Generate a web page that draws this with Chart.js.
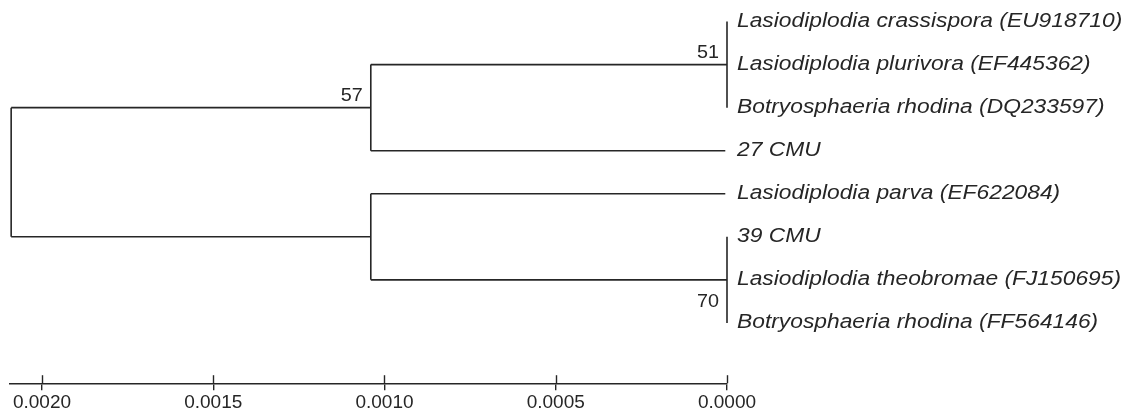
<!DOCTYPE html>
<html>
<head>
<meta charset="utf-8">
<title>Phylogenetic tree</title>
<script src="https://cdn.jsdelivr.net/npm/chart.js@4.4.1/dist/chart.umd.min.js"></script>
<style>
  body { margin: 0; background: #fff; }
  #wrap { width: 1132px; height: 416px; }
</style>
</head>
<body>
<div id="wrap"><canvas id="chart"></canvas></div>
<script>
// taxa, top to bottom
const leaves = [
    'Lasiodiplodia crassispora (EU918710)',
    'Lasiodiplodia plurivora (EF445362)',
    'Botryosphaeria rhodina (DQ233597)',
    '27 CMU',
    'Lasiodiplodia parva (EF622084)',
    '39 CMU',
    'Lasiodiplodia theobromae (FJ150695)',
    'Botryosphaeria rhodina (FF564146)'
];
const leafParent = ['n51', 'n51', 'n51', 'n57', 'nLow', 'n70', 'n70', 'n70'];
const leafDist = [0, 0, 0, 0.000005, 0.000005, 0, 0, 0];

// internal nodes, distance measured back from the tips
const nodeIds = ['root', 'n57', 'nLow', 'n51', 'n70'];
const nodeParent = [null, 'root', 'root', 'n57', 'nLow'];
const nodeDist = [0.00209, 0.00104, 0.00104, 0, 0];
const bootstrap = [null, 57, null, 51, 70];

// scale bar
const scaleTicks = [0.0020, 0.0015, 0.0010, 0.0005, 0.0000];

const INK = '#262626';
const FONT = '"Liberation Sans", Arial, sans-serif';

// y of each node = middle of its children
function distOf(id) { return nodeDist[nodeIds.indexOf(id)]; }
function childYs(id) {
    const ys = [];
    leafParent.forEach((p, i) => { if (p === id) ys.push(i); });
    nodeParent.forEach((p, i) => { if (p === id) ys.push(nodeY(nodeIds[i])); });
    return ys;
}
function nodeY(id) {
    const ys = childYs(id);
    return (Math.min(...ys) + Math.max(...ys)) / 2;
}

// build the branch segments
const segments = [];
leaves.forEach((name, i) => {
    const px = distOf(leafParent[i]);
    if (px !== leafDist[i]) segments.push([{ x: px, y: i }, { x: leafDist[i], y: i }]);
});
nodeIds.forEach((id, i) => {
    const y = nodeY(id);
    if (nodeParent[i]) segments.push([{ x: distOf(nodeParent[i]), y: y }, { x: nodeDist[i], y: y }]);
    const ys = childYs(id);
    segments.push([{ x: nodeDist[i], y: Math.min(...ys) }, { x: nodeDist[i], y: Math.max(...ys) }]);
});

const datasets = segments.map(seg => ({
    data: seg,
    showLine: true,
    borderColor: INK,
    borderWidth: 1.6,
    pointRadius: 0,
    clip: false
}));

// labels on the tips, bootstrap values and the upper half of the scale ticks
const treeText = {
    id: 'treeText',
    afterDatasetsDraw(chart) {
        const ctx = chart.ctx;
        const xs = chart.scales.x, ys = chart.scales.y;
        ctx.save();
        ctx.fillStyle = INK;

        // tip names
        ctx.font = 'italic 20px ' + FONT;
        ctx.textBaseline = 'middle';
        ctx.textAlign = 'left';
        leaves.forEach((name, i) => {
            ctx.save();
            ctx.translate(xs.getPixelForValue(0) + 10, ys.getPixelForValue(i));
            ctx.scale(1.14, 1);
            ctx.fillText(name, 0, 0);
            ctx.restore();
        });

        // bootstrap support
        ctx.font = '18px ' + FONT;
        ctx.textBaseline = 'alphabetic';
        ctx.textAlign = 'right';
        nodeIds.forEach((id, i) => {
            if (bootstrap[i] == null) return;
            const x = xs.getPixelForValue(nodeDist[i]) - 8;
            const y = ys.getPixelForValue(nodeY(id));
            const by = id === 'n70' ? y + 27 : y - 7;
            ctx.save();
            ctx.translate(x, by);
            ctx.scale(1.1, 1);
            ctx.fillText(String(bootstrap[i]), 0, 0);
            ctx.restore();
        });

        // ticks cross the scale line
        ctx.strokeStyle = INK;
        ctx.lineWidth = 1.4;
        const b = chart.chartArea.bottom;
        xs.ticks.forEach(t => {
            const x = Math.round(xs.getPixelForValue(t.value)) + 0.5;
            ctx.beginPath();
            ctx.moveTo(x, b - 8);
            ctx.lineTo(x, b);
            ctx.stroke();
        });
        ctx.restore();
    }
};

const ctx = document.getElementById('chart').getContext('2d');
new Chart(ctx, {
    type: 'scatter',
    data: { datasets: datasets },
    options: {
        responsive: true,
        maintainAspectRatio: false,
        animation: false,
        layout: { padding: { left: 10, right: 405, top: 0, bottom: 1 } },
        plugins: {
            legend: { display: false },
            tooltip: { enabled: false }
        },
        scales: {
            x: {
                type: 'linear',
                reverse: true,
                min: 0,
                max: 0.0020934,
                afterBuildTicks: s => { s.ticks = scaleTicks.map(v => ({ value: v })); },
                border: { display: true, color: INK, width: 1.4 },
                grid: { drawOnChartArea: false, drawTicks: true, tickLength: 7, color: INK, lineWidth: 1.4 },
                ticks: {
                    padding: 1,
                    maxRotation: 0,
                    color: INK,
                    font: { family: FONT, size: 19 },
                    callback: v => Number(v).toFixed(4)
                }
            },
            y: {
                type: 'linear',
                display: false,
                reverse: true,
                min: -0.5,
                max: 8.4
            }
        }
    },
    plugins: [treeText]
});
</script>
</body>
</html>
